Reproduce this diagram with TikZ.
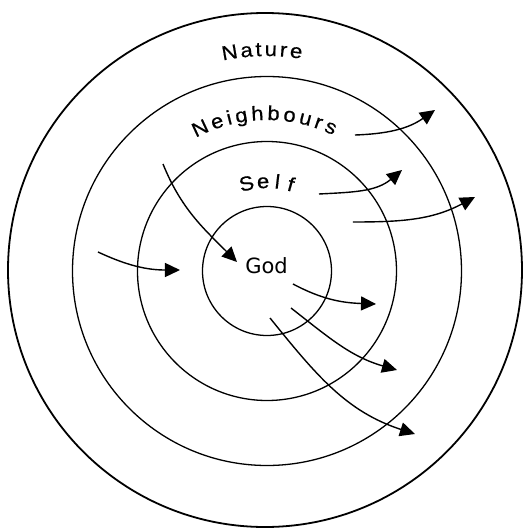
\documentclass[tikz,border=0pt]{standalone}
\usepackage{fontspec}
\newfontfamily\fuenteanillo[FakeStretch=1.1,FakeBold=0.5]{Liberation Sans}
\newfontfamily\fuentedios{DejaVu Sans}
\usetikzlibrary{arrows.meta}

\begin{document}
\begin{tikzpicture}[x=1pt,y=1pt,
      anillo/.style={circle,draw=black,line width=1.3pt,inner sep=0pt},
      letra/.style={anchor=base,inner sep=0pt,font=\fuenteanillo\fontsize{20}{22}\selectfont},
      flecha/.style={-{Triangle[length=15pt,width=14pt]},line width=1.4pt}]
    \useasboundingbox (-267,-257) rectangle (257,271);
    % los cuatro anillos
    \node[anillo,minimum size=129pt] (dios) at (0,0) {};
    \node[anillo,minimum size=259pt] (yo) at (0,0) {};
    \node[anillo,minimum size=389pt] (vecinos) at (0,0) {};
    \node[anillo,minimum size=514pt,line width=1.8pt] (naturaleza) at (-2,1) {};
    \node[font=\fuentedios\fontsize{21}{23}\selectfont] (tdios) at (-0.5,5) {God};
    % rotulos, letra por letra sobre un arco
    \foreach \ch/\ang [count=\i] in {N/99.7,a/95.3,t/92.2,u/89.0,r/85.7,e/82.4}
      \node[letra,rotate=\ang-90] (nat\i) at (\ang:215) {\ch};
    \foreach \ch/\ang [count=\i] in {N/115.1,e/108.5,i/103.9,g/99.4,h/93.5,
                                      b/87.6,o/81.7,u/75.8,r/70.8,s/66.0}
      \node[letra,rotate=\ang-90] (vec\i) at (\ang:151) {\ch};
    \foreach \ch/\ang [count=\i] in {S/103.2,e/92.5,l/83.3,f/74.5}
      \node[letra,rotate=\ang-90] (yo\i) at (\ang:83) {\ch};
    % extremos de las flechas
    \coordinate (e1a) at (-169,19);   \coordinate (e1b) at (-87,1);
    \coordinate (e2a) at (-104,107);  \coordinate (e2b) at (-30,9);
    \coordinate (s1a) at (88,136);    \coordinate (s1b) at (168,161);
    \coordinate (s2a) at (52,77);     \coordinate (s2b) at (135,101);
    \coordinate (s3a) at (86,49);     \coordinate (s3b) at (208,74);
    \coordinate (s4a) at (26,-13);    \coordinate (s4b) at (109,-33);
    \coordinate (s5a) at (24,-37);    \coordinate (s5b) at (130,-99);
    \coordinate (s6a) at (3,-47);     \coordinate (s6b) at (148,-163);
    \draw[flecha] (e1a) to[out=-25,in=180] (e1b);
    \draw[flecha] (e2a) to[out=-68,in=135] (e2b);
    \draw[flecha] (s1a) to[out=2,in=215] (s1b);
    \draw[flecha] (s2a) to[out=3,in=220] (s2b);
    \draw[flecha] (s3a) to[out=0,in=208] (s3b);
    \draw[flecha] (s4a) to[out=-28,in=178] (s4b);
    \draw[flecha] (s5a) to[out=-38,in=164] (s5b);
    \draw[flecha] (s6a) to[out=-51,in=162] (s6b);
\end{tikzpicture}
\end{document}
